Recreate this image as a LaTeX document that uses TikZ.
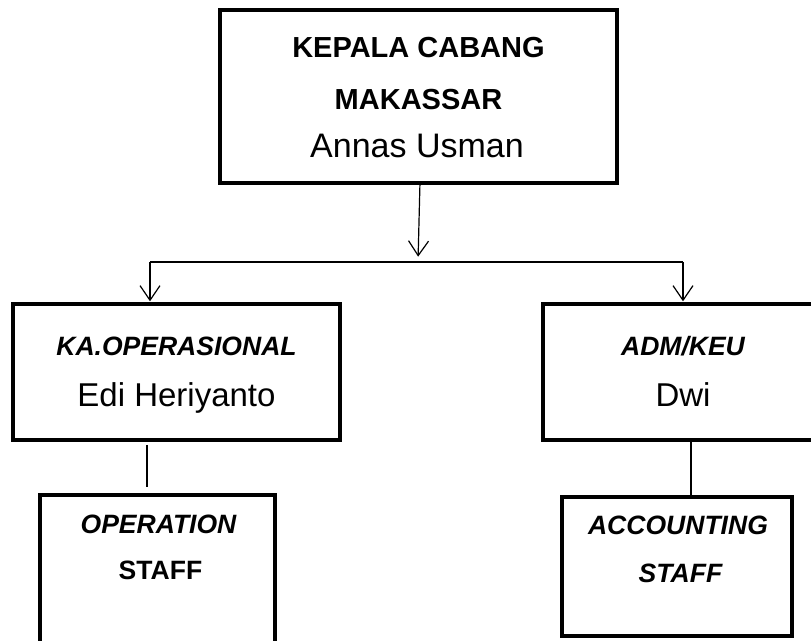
\documentclass[tikz,border=0pt]{standalone}
\usepackage{fontspec}
\setmainfont{Liberation Sans}
\usetikzlibrary{arrows.meta}
\begin{document}
\begin{tikzpicture}[x=0.75pt,y=-0.75pt,
  box/.style={draw=black,line width=3.6pt,inner sep=0pt,outer sep=0pt},
  conn/.style={draw=black,line width=0.9pt},
  arr/.style={conn,-{Straight Barb[length=11pt,width=15pt,line width=0.9pt]}},
  ttl/.style={anchor=base,inner sep=0pt,font=\fontsize{21.75}{26}\selectfont\bfseries},
  nm/.style={anchor=base,inner sep=0pt,font=\fontsize{25.5}{30}\selectfont},
  nmb/.style={anchor=base,inner sep=0pt,font=\fontsize{24.75}{30}\selectfont},
  role/.style={anchor=base,inner sep=0pt,font=\fontsize{19.9}{24}\selectfont\bfseries\itshape},
  roleu/.style={anchor=base,inner sep=0pt,font=\fontsize{19.9}{24}\selectfont\bfseries}]
\clip (0,0) rectangle (811,641);
\fill[white] (0,0) rectangle (811,641);
% boxes
\node[box,minimum width=297.75pt,minimum height=129.75pt] (top) at (418.5,96.5) {};
\node[box,minimum width=245.25pt,minimum height=102pt] (ko) at (176.5,372) {};
\node[box,minimum width=210pt,minimum height=102pt] (adm) at (683,372) {};
\node[box,minimum width=176.25pt,minimum height=123.75pt] (op) at (157.5,577.5) {};
\node[box,minimum width=172.5pt,minimum height=104.25pt] (acc) at (677,566.5) {};
% texts
\node[ttl] (t1) at (418.5,57.4) {KEPALA CABANG};
\node[ttl] (t2) at (418.5,110) {MAKASSAR};
\node[nm] (t3) at (417,158) {Annas Usman};
\node[role] (k1) at (176.5,355.5) {KA.OPERASIONAL};
\node[nmb] (k2) at (176.5,407) {Edi Heriyanto};
\node[role] (a1) at (683,355.5) {ADM/KEU};
\node[nmb] (a2) at (683,407) {Dwi};
\node[role] (o1) at (158.5,533.5) {OPERATION};
\node[roleu] (o2) at (160.5,580) {STAFF};
\node[role] (c1) at (678,535) {ACCOUNTING};
\node[role] (c2) at (680.5,582) {STAFF};
% connectors
\coordinate (j) at (418,262);
\coordinate (hl) at (150,262);
\coordinate (hr) at (683,262);
\draw[arr,shorten >=4pt] ([xshift=1.1pt]top.south) -- (j);
\draw[conn] (hl) -- (hr);
\draw[arr,shorten >=2pt] (hl) -- (hl |- ko.north);
\draw[arr,shorten >=2pt] (hr) -- (hr |- adm.north);
\coordinate (l1) at (147,445);
\coordinate (l2) at (147,487);
\draw[conn] (l1) -- (l2);
\coordinate (r1) at (691,440);
\draw[conn] (r1) -- (r1 |- acc.north);
\end{tikzpicture}
\end{document}
